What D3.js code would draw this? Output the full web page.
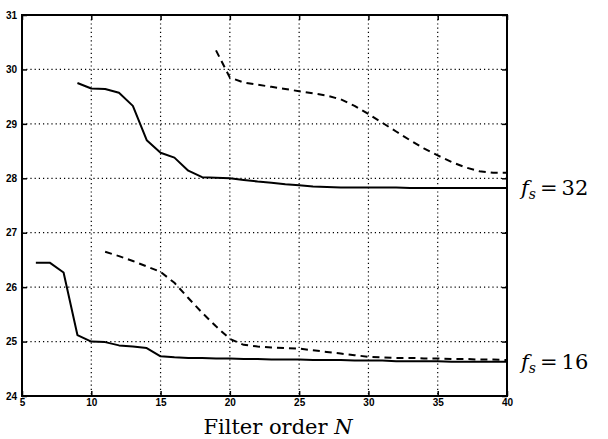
<!DOCTYPE html>
<html>
<head>
<meta charset="utf-8">
<script src="https://cdn.jsdelivr.net/npm/d3@7"></script>
<style>
  body { margin: 0; background: #fff; }
  svg { display: block; }
  .tick-label { font-family: "Liberation Sans", Arial, sans-serif; font-weight: bold; font-size: 10px; }
  .math { font-family: "DejaVu Serif", "Liberation Serif", serif; }
</style>
</head>
<body>
<svg id="chart" width="608" height="439"></svg>
<script>
"use strict";

// x ticks and y ticks
const xTicks = [5, 10, 15, 20, 25, 30, 35, 40];
const yTicks = [24, 25, 26, 27, 28, 29, 30, 31];

// fs = 32, solid
const n32Solid = [9, 10, 11, 12, 13, 14, 15, 16, 17, 18, 19, 20, 21, 22, 23, 24, 25, 26, 27, 28, 29, 30, 31, 32, 33, 34, 35, 36, 37, 38, 39, 40];
const v32Solid = [29.75, 29.65, 29.64, 29.57, 29.33, 28.70, 28.47, 28.38, 28.14, 28.02, 28.01, 28.00, 27.97, 27.94, 27.92, 27.89, 27.87, 27.85, 27.84, 27.83, 27.83, 27.83, 27.83, 27.83, 27.82, 27.82, 27.82, 27.82, 27.82, 27.82, 27.82, 27.82];

// fs = 32, dashed
const n32Dash = [19, 20, 21, 22, 23, 24, 25, 26, 27, 28, 29, 30, 31, 32, 33, 34, 35, 36, 37, 38, 39, 40];
const v32Dash = [30.35, 29.85, 29.76, 29.72, 29.68, 29.64, 29.60, 29.56, 29.52, 29.45, 29.33, 29.18, 29.02, 28.86, 28.70, 28.55, 28.42, 28.30, 28.20, 28.13, 28.10, 28.10];

// fs = 16, solid
const n16Solid = [6, 7, 8, 9, 10, 11, 12, 13, 14, 15, 16, 17, 18, 19, 20, 21, 22, 23, 24, 25, 26, 27, 28, 29, 30, 31, 32, 33, 34, 35, 36, 37, 38, 39, 40];
const v16Solid = [26.45, 26.45, 26.27, 25.12, 25.00, 24.99, 24.93, 24.91, 24.88, 24.73, 24.71, 24.70, 24.70, 24.69, 24.69, 24.68, 24.68, 24.67, 24.67, 24.67, 24.66, 24.66, 24.66, 24.65, 24.65, 24.65, 24.64, 24.64, 24.64, 24.64, 24.63, 24.63, 24.63, 24.63, 24.63];

// fs = 16, dashed
const n16Dash = [11, 12, 13, 14, 15, 16, 17, 18, 19, 20, 21, 22, 23, 24, 25, 26, 27, 28, 29, 30, 31, 32, 33, 34, 35, 36, 37, 38, 39, 40];
const v16Dash = [26.65, 26.57, 26.48, 26.38, 26.28, 26.08, 25.80, 25.53, 25.28, 25.05, 24.94, 24.91, 24.89, 24.88, 24.87, 24.84, 24.81, 24.78, 24.75, 24.72, 24.71, 24.70, 24.70, 24.69, 24.69, 24.68, 24.68, 24.67, 24.67, 24.66];

const curveLabels = [
    { text: "32", y: 27.82 },
    { text: "16", y: 24.63 }
];

const svg = d3.select('#chart');
const mLeft = 22, mRight = 507, mTop = 15, mBottom = 396;

const x = d3.scaleLinear().domain([5, 40]).range([mLeft, mRight]);
const y = d3.scaleLinear().domain([24, 31]).range([mBottom, mTop]);

// Dotted grid
const grid = svg.append('g');
grid.selectAll('line.gx')
    .data(xTicks.slice(1, -1))
    .enter().append('line')
    .attr('x1', d => x(d)).attr('x2', d => x(d))
    .attr('y1', mTop).attr('y2', mBottom)
    .attr('stroke', '#000').attr('stroke-width', 1.2)
    .attr('stroke-dasharray', '1.2,3');
grid.selectAll('line.gy')
    .data(yTicks.slice(1, -1))
    .enter().append('line')
    .attr('x1', mLeft).attr('x2', mRight)
    .attr('y1', d => y(d)).attr('y2', d => y(d))
    .attr('stroke', '#000').attr('stroke-width', 1.2)
    .attr('stroke-dasharray', '1.2,3');

// Axes (ticks inward)
const xAxis = d3.axisBottom(x).tickValues(xTicks).tickSize(-5).tickPadding(3).tickFormat(d3.format('d'));
const yAxis = d3.axisLeft(y).tickValues(yTicks).tickSize(-5).tickPadding(5).tickFormat(d3.format('d'));

const gx = svg.append('g').attr('transform', `translate(0,${mBottom})`).call(xAxis);
const gy = svg.append('g').attr('transform', `translate(${mLeft},0)`).call(yAxis);
svg.append('g').attr('transform', `translate(0,${mTop})`)
    .call(d3.axisTop(x).tickValues(xTicks).tickSize(-5).tickFormat(''));
svg.append('g').attr('transform', `translate(${mRight},0)`)
    .call(d3.axisRight(y).tickValues(yTicks).tickSize(-5).tickFormat(''));

svg.selectAll('.domain').remove();
svg.selectAll('.tick line').attr('stroke', '#000').attr('stroke-width', 1.5);
gx.selectAll('text').attr('class', 'tick-label').attr('fill', '#000');
gy.selectAll('text').attr('class', 'tick-label').attr('fill', '#000');

// Box
svg.append('rect')
    .attr('x', mLeft).attr('y', mTop)
    .attr('width', mRight - mLeft).attr('height', mBottom - mTop)
    .attr('fill', 'none').attr('stroke', '#000').attr('stroke-width', 2);

// Curves
const line = d3.line()
    .x(d => x(d[0]))
    .y(d => y(d[1]));

const series = [
    { n: n32Solid, v: v32Solid, dash: null },
    { n: n32Dash, v: v32Dash, dash: '7,5' },
    { n: n16Solid, v: v16Solid, dash: null },
    { n: n16Dash, v: v16Dash, dash: '7,5' }
];

series.forEach(s => {
    svg.append('path')
        .datum(d3.zip(s.n, s.v))
        .attr('d', line)
        .attr('fill', 'none')
        .attr('stroke', '#000')
        .attr('stroke-width', 2)
        .attr('stroke-linejoin', 'round')
        .attr('stroke-dasharray', s.dash);
});

// f_s labels
curveLabels.forEach(c => {
    const t = svg.append('text')
        .attr('class', 'math')
        .attr('x', 521)
        .attr('y', y(c.y) + 7)
        .attr('font-size', 21)
        .attr('fill', '#000');
    t.append('tspan').attr('font-style', 'italic').text('f');
    t.append('tspan').attr('font-style', 'italic').attr('font-size', 14).attr('dy', 4).text('s');
    t.append('tspan').attr('dy', -4).attr('dx', 4).text('=');
    t.append('tspan').attr('dx', 4).text(c.text);
});

// x label
const xl = svg.append('text')
    .attr('class', 'math')
    .attr('x', 278)
    .attr('y', 434)
    .attr('text-anchor', 'middle')
    .attr('font-size', 21)
    .attr('fill', '#000');
xl.append('tspan').text('Filter order ');
xl.append('tspan').attr('font-style', 'italic').text('N');
</script>
</body>
</html>
